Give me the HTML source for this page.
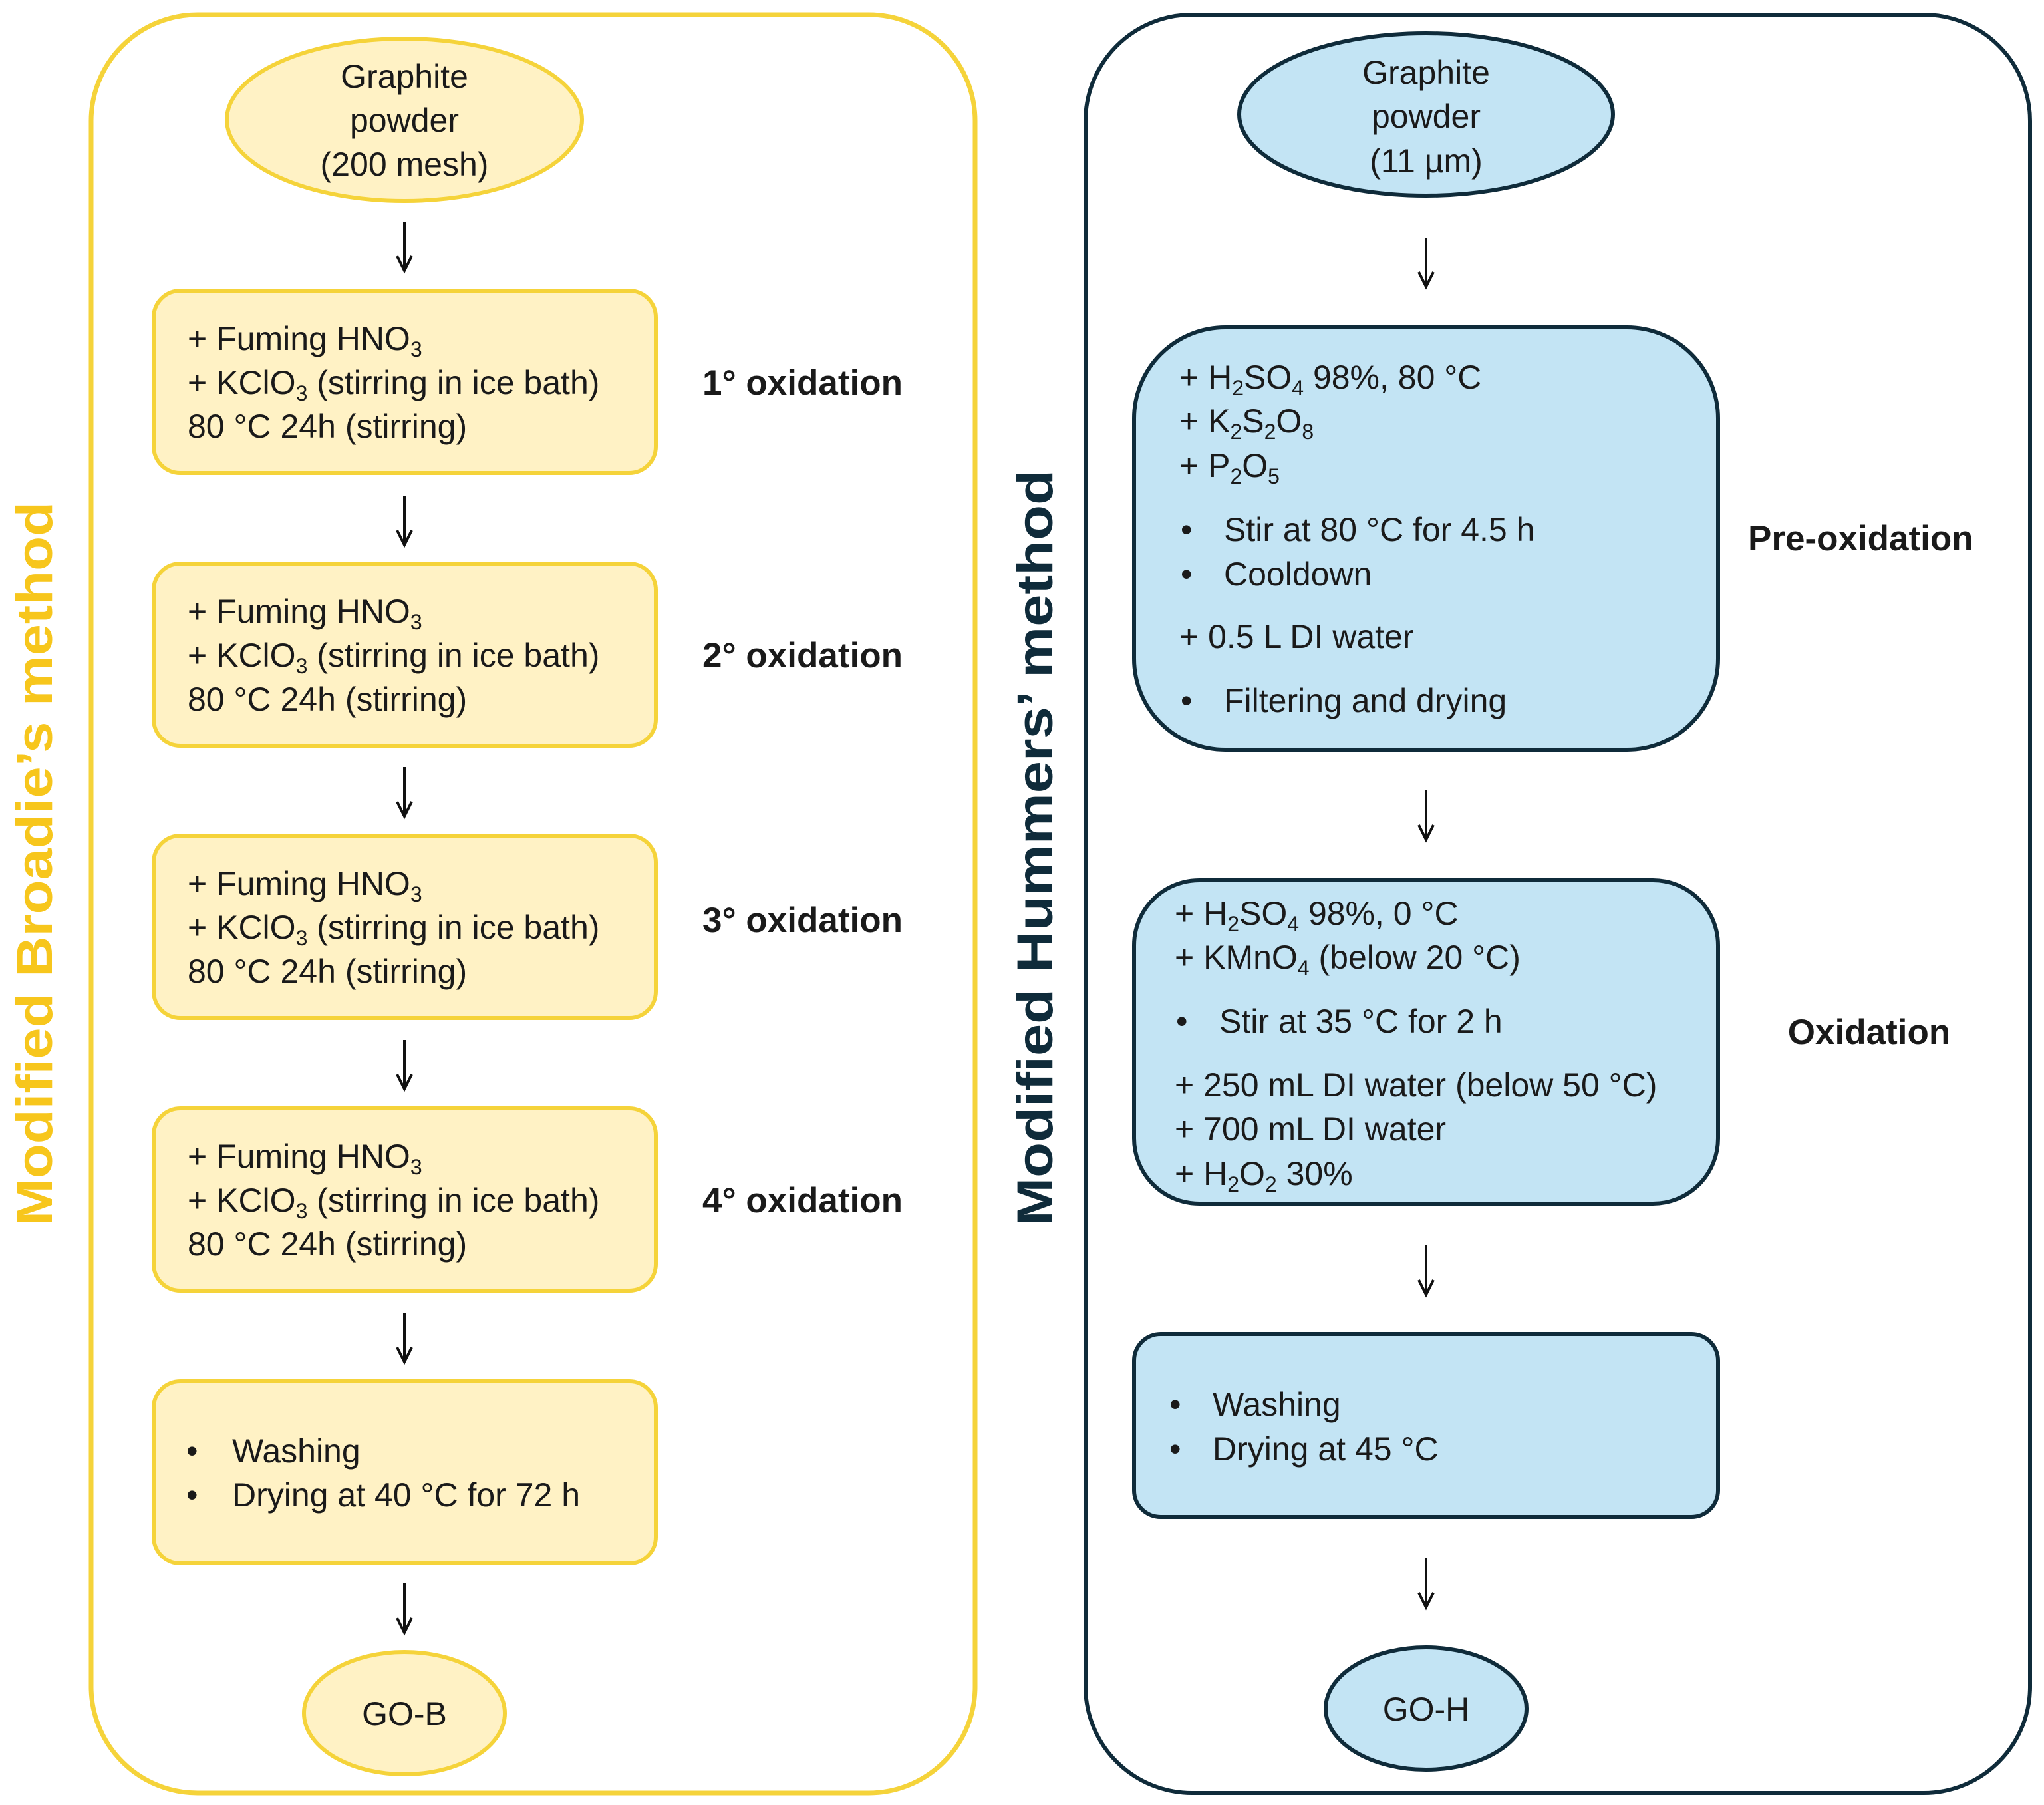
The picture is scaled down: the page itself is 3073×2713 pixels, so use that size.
<!DOCTYPE html>
<html><head><meta charset="utf-8"><style>
html,body{margin:0;padding:0;background:#fff;}
svg{display:block;}
text{font-family:"Liberation Sans",sans-serif;fill:#1a1a1a;}
</style></head><body>
<svg width="3073" height="2713" viewBox="0 0 3073 2713" xmlns="http://www.w3.org/2000/svg">
<defs>
<g id="arr"><line x1="0" y1="0" x2="0" y2="72" stroke="#111" stroke-width="4"/><polyline points="-11,52 0,74 11,52" fill="none" stroke="#111" stroke-width="4"/></g>
</defs>
<rect x="137" y="22" width="1329" height="2673" rx="160" fill="#fff" stroke="#f5d33a" stroke-width="7"/>
<rect x="1632" y="22" width="1420" height="2673" rx="160" fill="#fff" stroke="#0f2b3a" stroke-width="6"/>
<text transform="translate(78,1298) rotate(-90)" text-anchor="middle" font-size="76" font-weight="bold" style="fill:#f7c61c" textLength="1088" lengthAdjust="spacingAndGlyphs">Modified Broadie’s method</text>
<text transform="translate(1582,1274) rotate(-90)" text-anchor="middle" font-size="76" font-weight="bold" style="fill:#0f2b3a" textLength="1136" lengthAdjust="spacingAndGlyphs">Modified Hummers’ method</text>

<ellipse cx="608" cy="180" rx="267" ry="122" fill="#fff2c5" stroke="#f5d33a" stroke-width="6"/>
<text x="608" y="132" font-size="50" text-anchor="middle">Graphite</text>
<text x="608" y="198" font-size="50" text-anchor="middle">powder</text>
<text x="608" y="264" font-size="50" text-anchor="middle">(200 mesh)</text>

<use href="#arr" x="608" y="333"/>
<use href="#arr" x="608" y="745"/>
<use href="#arr" x="608" y="1153"/>
<use href="#arr" x="608" y="1563"/>
<use href="#arr" x="608" y="1973"/>
<use href="#arr" x="608" y="2380"/>

<g id="ob">
<rect x="231" y="437" width="755" height="274" rx="40" fill="#fff2c5" stroke="#f5d33a" stroke-width="6"/>
<text x="282" y="526" font-size="50">+ Fuming HNO<tspan dy="10" font-size="32">3</tspan></text>
<text x="282" y="592" font-size="50">+ KClO<tspan dy="10" font-size="32">3</tspan><tspan dy="-10"> (stirring in ice bath)</tspan></text>
<text x="282" y="658" font-size="50">80 °C 24h (stirring)</text>
</g>
<use href="#ob" y="410"/>
<use href="#ob" y="819"/>
<use href="#ob" y="1229"/>
<text x="1056" y="593" font-size="53" font-weight="bold">1° oxidation</text>
<text x="1056" y="1003" font-size="53" font-weight="bold">2° oxidation</text>
<text x="1056" y="1401" font-size="53" font-weight="bold">3° oxidation</text>
<text x="1056" y="1822" font-size="53" font-weight="bold">4° oxidation</text>

<rect x="231" y="2076" width="755" height="274" rx="40" fill="#fff2c5" stroke="#f5d33a" stroke-width="6"/>
<text x="280" y="2198" font-size="50">•</text><text x="349" y="2198" font-size="50">Washing</text>
<text x="280" y="2264" font-size="50">•</text><text x="349" y="2264" font-size="50">Drying at 40 °C for 72 h</text>

<ellipse cx="608" cy="2575" rx="151" ry="92" fill="#fff2c5" stroke="#f5d33a" stroke-width="6"/>
<text x="608" y="2593" font-size="50" text-anchor="middle">GO-B</text>

<ellipse cx="2144" cy="172" rx="281" ry="122" fill="#c3e4f4" stroke="#0f2b3a" stroke-width="6"/>
<text x="2144" y="126" font-size="50" text-anchor="middle">Graphite</text>
<text x="2144" y="192" font-size="50" text-anchor="middle">powder</text>
<text x="2144" y="259" font-size="50" text-anchor="middle">(11 µm)</text>

<use href="#arr" x="2144" y="357"/>
<use href="#arr" x="2144" y="1188"/>
<use href="#arr" x="2144" y="1872"/>
<use href="#arr" x="2144" y="2342"/>

<rect x="1705" y="492" width="878" height="635" rx="137" fill="#c3e4f4" stroke="#0f2b3a" stroke-width="6"/>
<text x="1773" y="584" font-size="50">+  H<tspan dy="10" font-size="32">2</tspan><tspan dy="-10">SO</tspan><tspan dy="10" font-size="32">4</tspan><tspan dy="-10"> 98%, 80 °C</tspan></text>
<text x="1773" y="650" font-size="50">+ K<tspan dy="10" font-size="32">2</tspan><tspan dy="-10">S</tspan><tspan dy="10" font-size="32">2</tspan><tspan dy="-10">O</tspan><tspan dy="10" font-size="32">8</tspan></text>
<text x="1773" y="717" font-size="50">+ P<tspan dy="10" font-size="32">2</tspan><tspan dy="-10">O</tspan><tspan dy="10" font-size="32">5</tspan></text>
<text x="1775" y="813" font-size="50">•</text><text x="1840" y="813" font-size="50">Stir at 80 °C for 4.5 h</text>
<text x="1775" y="880" font-size="50">•</text><text x="1840" y="880" font-size="50">Cooldown</text>
<text x="1773" y="974" font-size="50">+ 0.5 L DI water</text>
<text x="1775" y="1070" font-size="50">•</text><text x="1840" y="1070" font-size="50">Filtering and drying</text>
<text x="2628" y="827" font-size="53" font-weight="bold">Pre-oxidation</text>

<rect x="1705" y="1323" width="878" height="486" rx="98" fill="#c3e4f4" stroke="#0f2b3a" stroke-width="6"/>
<text x="1766" y="1390" font-size="50">+ H<tspan dy="10" font-size="32">2</tspan><tspan dy="-10">SO</tspan><tspan dy="10" font-size="32">4</tspan><tspan dy="-10"> 98%, 0 °C</tspan></text>
<text x="1766" y="1456" font-size="50">+ KMnO<tspan dy="10" font-size="32">4</tspan><tspan dy="-10"> (below 20 °C)</tspan></text>
<text x="1768" y="1552" font-size="50">•</text><text x="1833" y="1552" font-size="50">Stir at 35 °C for 2 h</text>
<text x="1766" y="1648" font-size="50">+ 250 mL DI water (below 50 °C)</text>
<text x="1766" y="1714" font-size="50">+ 700 mL DI water</text>
<text x="1766" y="1781" font-size="50">+ H<tspan dy="10" font-size="32">2</tspan><tspan dy="-10">O</tspan><tspan dy="10" font-size="32">2</tspan><tspan dy="-10"> 30%</tspan></text>
<text x="2810" y="1569" font-size="53" font-weight="bold" text-anchor="middle">Oxidation</text>

<rect x="1705" y="2005" width="878" height="275" rx="40" fill="#c3e4f4" stroke="#0f2b3a" stroke-width="6"/>
<text x="1758" y="2128" font-size="50">•</text><text x="1823" y="2128" font-size="50">Washing</text>
<text x="1758" y="2195" font-size="50">•</text><text x="1823" y="2195" font-size="50">Drying at 45 °C</text>

<ellipse cx="2144" cy="2568" rx="151" ry="92" fill="#c3e4f4" stroke="#0f2b3a" stroke-width="6"/>
<text x="2144" y="2586" font-size="50" text-anchor="middle">GO-H</text>
</svg>
</body></html>
